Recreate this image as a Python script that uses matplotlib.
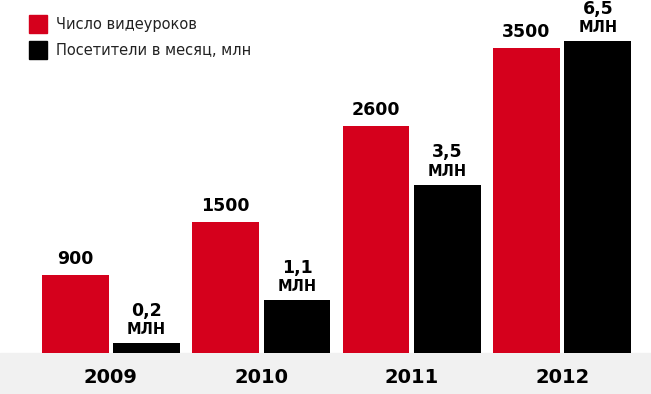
import matplotlib.pyplot as plt
from matplotlib.patches import Patch, Rectangle
import numpy as np

# data read from the infographic
years = ['2009', '2010', '2011', '2012']
lessons = [900, 1500, 2600, 3500]            # число видеуроков
visitors = [0.2, 1.1, 3.5, 6.5]              # посетители в месяц, млн
visitor_labels = ['0,2', '1,1', '3,5', '6,5']

RED = '#d5001c'
BLACK = '#000000'

plt.rcParams['font.family'] = ['DejaVu Sans']

fig = plt.figure(figsize=(6.51, 3.94), dpi=100)
# light grey strip under the bars, as in the original
fig.add_artist(Rectangle((0, 0), 1, 41 / 394, transform=fig.transFigure,
                         color='#f1f1f1', zorder=0))
ax = fig.add_axes([0, 41 / 394, 1, 353 / 394])
ax2 = ax.twinx()
ax.patch.set_alpha(0)

x = np.arange(len(years))
w = 0.445
off = 0.2375

ax.bar(x - off, lessons, width=w, color=RED)
ax2.bar(x + off, visitors, width=w, color=BLACK)

ax.set_xlim(-0.736, 3.59)
ax.set_ylim(0, 4049)
ax2.set_ylim(0, 7.36)

# value labels
for xi, v in zip(x, lessons):
    ax.annotate(str(v), (xi - off, v), xytext=(0, 11.5), textcoords='offset points',
                ha='center', va='center', fontsize=12.5, fontweight='bold')
for xi, v, lab in zip(x, visitors, visitor_labels):
    ax2.annotate('МЛН', (xi + off, v), xytext=(0, 10), textcoords='offset points',
                 ha='center', va='center', fontsize=10.5, fontweight='bold')
    ax2.annotate(lab, (xi + off, v), xytext=(0, 23.5), textcoords='offset points',
                 ha='center', va='center', fontsize=12.5, fontweight='bold')

ax.set_xticks(x)
ax.set_xticklabels(years, fontsize=14, fontweight='bold')
ax.tick_params(axis='x', length=0, pad=11)
ax.set_yticks([])
ax2.set_yticks([])
for a in (ax, ax2):
    for s in a.spines.values():
        s.set_visible(False)

handles = [Patch(color=RED, label='Число видеуроков'),
           Patch(color=BLACK, label='Посетители в месяц, млн')]
leg = ax2.legend(handles=handles, loc='upper left', bbox_to_anchor=(0.0237, 0.995),
                 frameon=False, fontsize=10.5, handlelength=1.25, handleheight=1.5,
                 handletextpad=0.65, labelspacing=0.6)
for t in leg.get_texts():
    t.set_color('#222222')

fig.savefig('out.png', dpi=100)
